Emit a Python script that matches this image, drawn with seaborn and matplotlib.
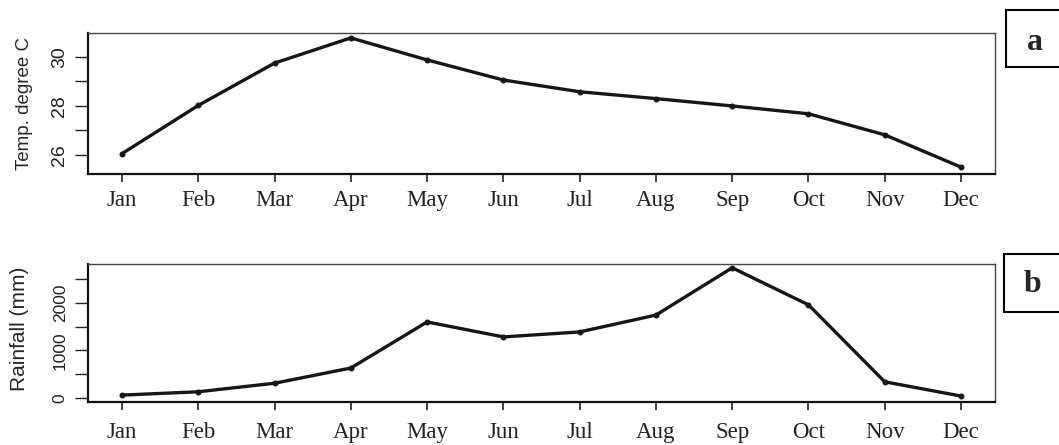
import matplotlib
matplotlib.use("Agg")
import matplotlib.pyplot as plt
import seaborn as sns
import pandas as pd
from matplotlib.patches import Rectangle

months = ["Jan", "Feb", "Mar", "Apr", "May", "Jun",
          "Jul", "Aug", "Sep", "Oct", "Nov", "Dec"]
temperature_c = [26.05, 28.02, 29.75, 30.78, 29.88, 29.06,
                 28.58, 28.30, 28.00, 27.68, 26.82, 25.50]
rainfall_mm = [60, 130, 310, 630, 1600, 1285, 1390, 1745, 2740, 1960, 340, 40]

temp_ticks = [26, 27, 28, 29, 30]
temp_labels = ["26", "", "28", "", "30"]
rain_ticks = [0, 500, 1000, 1500, 2000, 2500]
rain_labels = ["0", "", "1000", "", "2000", ""]

sns.set_theme(style="ticks")
plt.rcParams["font.family"] = ["Liberation Sans", "DejaVu Sans"]

df = pd.DataFrame({"m": range(len(months)),
                   "temp": temperature_c,
                   "rain": rainfall_mm})

W, H = 1059, 445
fig = plt.figure(figsize=(W / 100, H / 100), dpi=100)


def px_axes(left, top, right, bottom):
    return fig.add_axes([left / W, 1 - bottom / H, (right - left) / W, (bottom - top) / H])


ax_t = px_axes(88, 33, 995, 174)
ax_r = px_axes(88, 264, 995, 402)

line_kw = dict(color="#161616", linewidth=2.4, marker="o", markersize=3.5,
               markeredgewidth=0.8, markerfacecolor="#161616", markeredgecolor="#161616")

sns.lineplot(data=df, x="m", y="temp", ax=ax_t, **line_kw)
sns.lineplot(data=df, x="m", y="rain", ax=ax_r, **line_kw)

ax_t.set_ylim(25.22, 30.98)
ax_t.set_yticks(temp_ticks)
ax_t.set_yticklabels(temp_labels)
ax_t.set_ylabel("Temp. degree C", fontsize=13.5)
ax_t.tick_params(axis="y", labelsize=14)

ax_r.set_ylim(-85, 2820)
ax_r.set_yticks(rain_ticks)
ax_r.set_yticklabels(rain_labels)
ax_r.set_ylabel("Rainfall (mm)", fontsize=15)
ax_r.tick_params(axis="y", labelsize=12.5)

for ax, xpad in ((ax_t, 5.5), (ax_r, 8.5)):
    ax.set_xlim(-0.445, 11.445)
    ax.set_xticks(range(len(months)))
    ax.set_xticklabels(months, family=["Liberation Serif"], fontsize=16.5, color="#111111")
    ax.set_xlabel("")
    ax.tick_params(axis="x", direction="out", length=6, width=1.2, pad=xpad, colors="#222222")
    ax.tick_params(axis="y", direction="out", length=9.5, width=1.0, pad=5, colors="#222222")
    for lab in ax.get_yticklabels():
        lab.set_rotation(90)
        lab.set_va("center")
    for side, sp in ax.spines.items():
        sp.set_visible(True)
        sp.set_color("#444444")
        sp.set_linewidth(1.0)
    for side in ("bottom", "left"):
        ax.spines[side].set_linewidth(1.6)
        ax.spines[side].set_color("#111111")

ax_t.yaxis.set_label_coords(-0.0606, 0.50)
ax_r.yaxis.set_label_coords(-0.065, 0.53)

# panel letters in boxed frames running off the right margin
for (left, top, bottom, cx, cy, letter) in [(1006, 10, 67, 1035, 42, "a"),
                                            (1004, 254, 312, 1033, 284, "b")]:
    fig.patches.append(Rectangle((left / W, 1 - bottom / H), 80 / W, (bottom - top) / H,
                                 transform=fig.transFigure, facecolor="white",
                                 edgecolor="black", linewidth=1.5))
    fig.text(cx / W, 1 - cy / H, letter, family=["Liberation Serif"], fontweight="bold",
             fontsize=23, ha="center", va="center")

fig.savefig("out.png", dpi=100)
